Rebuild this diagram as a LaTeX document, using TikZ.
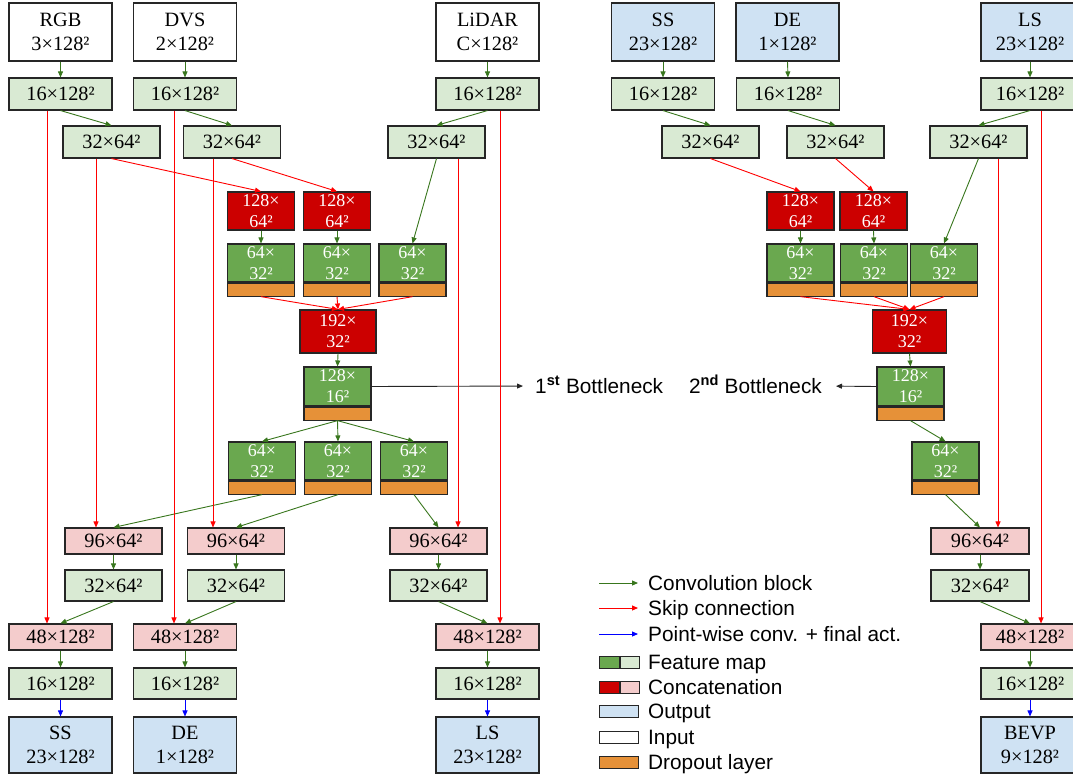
\documentclass[tikz,border=0pt]{standalone}
\usepackage{fontspec}
\setmainfont{Liberation Serif}
\setsansfont{Liberation Sans}
\usetikzlibrary{arrows.meta}

\definecolor{fmlight}{HTML}{D9EAD3}
\definecolor{fmdark}{HTML}{6AA84F}
\definecolor{catlight}{HTML}{F4CCCC}
\definecolor{catdark}{HTML}{CC0000}
\definecolor{outblue}{HTML}{CFE2F3}
\definecolor{dropout}{HTML}{E69138}
\definecolor{convgreen}{HTML}{38761D}
\definecolor{edgegray}{HTML}{262626}

\tikzset{
  box/.style={draw=edgegray, line width=1.1pt, inner sep=0pt, align=center,
              font=\fontsize{20.3}{23.5}\selectfont},
  inp/.style={box, fill=white},
  outp/.style={box, fill=outblue},
  fml/.style={box, fill=fmlight},
  fmd/.style={box, fill=fmdark, text=white, font=\fontsize{18}{21}\selectfont},
  catl/.style={box, fill=catlight},
  catd/.style={box, fill=catdark, text=white, font=\fontsize{18}{21}\selectfont},
  drop/.style={box, fill=dropout, minimum width=67pt, minimum height=13pt, anchor=north},
  wide/.style={minimum width=103pt},
  mid/.style={minimum width=97pt},
  narrow/.style={minimum width=67pt},
  tip/.style={-{Triangle[length=6pt,width=5pt]}, line width=0.9pt},
  conv/.style={tip, draw=convgreen},
  skip/.style={tip, draw=red},
  pw/.style={tip, draw=blue},
  bneck/.style={tip, draw=black!85},
  lab/.style={inner sep=0pt, font=\sffamily\fontsize{20.8}{24}\selectfont,
              text height=15pt, text depth=0pt},
  key/.style={draw=edgegray, line width=1pt, inner sep=0pt, minimum height=12pt}
}

\begin{document}
\begin{tikzpicture}[x=1pt,y=-1pt]
\useasboundingbox (0,0) rectangle (1073,775);

% ===================== first network =====================
% inputs
\node[inp, wide, minimum height=58pt] (rgbin) at (60.5,32) {RGB\\3×128²};
\node[inp, wide, minimum height=58pt] (dvsin) at (185,32) {DVS\\2×128²};
\node[inp, wide, minimum height=58pt] (lidin) at (487.5,32) {LiDAR\\C×128²};
% first convolutions
\node[fml, wide, minimum height=32pt] (rgbc) at (60.5,94) {16×128²};
\node[fml, wide, minimum height=32pt] (dvsc) at (185,94) {16×128²};
\node[fml, wide, minimum height=32pt] (lidc) at (487.5,94) {16×128²};
% encoder 32x64
\node[fml, mid, minimum height=32pt] (rgbe) at (111.5,142) {32×64²};
\node[fml, mid, minimum height=32pt] (dvse) at (232,142) {32×64²};
\node[fml, mid, minimum height=32pt] (lide) at (436.5,142) {32×64²};
% concatenations
\node[catd, narrow, minimum height=38pt] (cat1) at (261,211) {128×\\64²};
\node[catd, narrow, minimum height=38pt] (cat2) at (337,211) {128×\\64²};
% encoder feature maps
\node[fmd, narrow, minimum height=38pt] (fa1) at (261,263) {64×\\32²};
\node[drop] (fa1d) at (fa1.south) {};
\node[fmd, narrow, minimum height=38pt] (fa2) at (337,263) {64×\\32²};
\node[drop] (fa2d) at (fa2.south) {};
\node[fmd, narrow, minimum height=38pt] (fa3) at (412.5,263) {64×\\32²};
\node[drop] (fa3d) at (fa3.south) {};
% fusion
\node[catd, minimum width=76pt, minimum height=43pt] (cat3) at (338,331.5) {192×\\32²};
% bottleneck
\node[fmd, narrow, minimum height=39pt] (bn) at (337.5,386.5) {128×\\16²};
\node[drop] (bnd) at (bn.south) {};
\node[lab, anchor=west] (bt1) at (535,386) {1\textsuperscript{\bfseries st} Bottleneck};
% decoder feature maps
\node[fmd, narrow, minimum height=38pt] (fb1) at (262,461) {64×\\32²};
\node[drop] (fb1d) at (fb1.south) {};
\node[fmd, narrow, minimum height=38pt] (fb2) at (338,461) {64×\\32²};
\node[drop] (fb2d) at (fb2.south) {};
\node[fmd, narrow, minimum height=38pt] (fb3) at (414,461) {64×\\32²};
\node[drop] (fb3d) at (fb3.south) {};
% decoder 96x64
\node[catl, mid, minimum height=26pt] (rgbk) at (113.5,541) {96×64²};
\node[catl, mid, minimum height=26pt] (dvsk) at (236,541) {96×64²};
\node[catl, mid, minimum height=26pt] (lidk) at (438.5,541) {96×64²};
% decoder 32x64
\node[fml, mid, minimum height=31pt] (rgbm) at (113.5,585.5) {32×64²};
\node[fml, mid, minimum height=31pt] (dvsm) at (236,585.5) {32×64²};
\node[fml, mid, minimum height=31pt] (lidm) at (438.5,585.5) {32×64²};
% decoder 48x128
\node[catl, wide, minimum height=26pt] (rgbj) at (60.5,637) {48×128²};
\node[catl, wide, minimum height=26pt] (dvsj) at (185,637) {48×128²};
\node[catl, wide, minimum height=26pt] (lidj) at (487.5,637) {48×128²};
% decoder 16x128
\node[fml, wide, minimum height=31pt] (rgbf) at (60.5,683.5) {16×128²};
\node[fml, wide, minimum height=31pt] (dvsf) at (185,683.5) {16×128²};
\node[fml, wide, minimum height=31pt] (lidf) at (487.5,683.5) {16×128²};
% outputs
\node[outp, wide, minimum height=56pt] (rgbo) at (60.5,745) {SS\\23×128²};
\node[outp, wide, minimum height=56pt] (dvso) at (185,745) {DE\\1×128²};
\node[outp, wide, minimum height=56pt] (lido) at (487.5,745) {LS\\23×128²};

% encoder connectors
\foreach \s in {rgb,dvs,lid}{
  \draw[conv] (\s in.south) -- (\s c.north);
  \draw[conv] (\s c.south) -- (\s e.north);
}
\draw[skip] (rgbe.south) -- (cat1.north);
\draw[skip] (dvse.south) -- (cat2.north);
\draw[conv] (cat1.south) -- (fa1.north);
\draw[conv] (cat2.south) -- (fa2.north);
\draw[conv] (lide.south) -- (fa3.north);
\draw[skip] (fa1d.south) -- (cat3.north);
\draw[skip] (fa2d.south) -- (cat3.north);
\draw[skip] (fa3d.south) -- (cat3.north);
\draw[conv] (cat3.south) -- (bn.north);
\draw[bneck, shorten >=12pt] (bn.east) -- (bt1.west);
% decoder connectors
\draw[conv] (bnd.south) -- (fb1.north);
\draw[conv] (bnd.south) -- (fb2.north);
\draw[conv] (bnd.south) -- (fb3.north);
\draw[conv] (fb1d.south) -- (rgbk.north);
\draw[conv] (fb2d.south) -- (dvsk.north);
\draw[conv] (fb3d.south) -- (lidk.north);
\foreach \s in {rgb,dvs,lid}{
  \draw[conv] (\s k.south) -- (\s m.north);
  \draw[conv] (\s m.south) -- (\s j.north);
  \draw[conv] (\s j.south) -- (\s f.north);
  \draw[pw] (\s f.south) -- (\s o.north);
}
% skip connections
\draw[skip] ([xshift=-13.5pt]rgbc.south) -- ([xshift=-13.5pt]rgbc.south |- rgbj.north);
\draw[skip] ([xshift=-11pt]dvsc.south) -- ([xshift=-11pt]dvsc.south |- dvsj.north);
\draw[skip] ([xshift=12.5pt]lidc.south) -- ([xshift=12.5pt]lidc.south |- lidj.north);
\draw[skip] ([xshift=-15.5pt]rgbe.south) -- ([xshift=-15.5pt]rgbe.south |- rgbk.north);
\draw[skip] ([xshift=-19pt]dvse.south) -- ([xshift=-19pt]dvse.south |- dvsk.north);
\draw[skip] ([xshift=21.5pt]lide.south) -- ([xshift=21.5pt]lide.south |- lidk.north);

% ===================== second network =====================
\node[outp, wide, minimum height=58pt] (ssin) at (663,32) {SS\\23×128²};
\node[outp, wide, minimum height=58pt] (dein) at (787.5,32) {DE\\1×128²};
\node[outp, minimum width=98pt, minimum height=58pt] (lsin) at (1030,32) {LS\\23×128²};
\node[fml, wide, minimum height=32pt] (ssc) at (663,94) {16×128²};
\node[fml, wide, minimum height=32pt] (dec) at (788,94) {16×128²};
\node[fml, minimum width=98pt, minimum height=32pt] (lsc) at (1030,94) {16×128²};
\node[fml, mid, minimum height=32pt] (sse) at (710.5,142) {32×64²};
\node[fml, mid, minimum height=32pt] (dee) at (835.5,142) {32×64²};
\node[fml, mid, minimum height=32pt] (lse) at (978.5,142) {32×64²};
\node[catd, narrow, minimum height=38pt] (cat4) at (800.5,211) {128×\\64²};
\node[catd, narrow, minimum height=38pt] (cat5) at (873.5,211) {128×\\64²};
\node[fmd, narrow, minimum height=38pt] (fc1) at (800.5,263) {64×\\32²};
\node[drop] (fc1d) at (fc1.south) {};
\node[fmd, narrow, minimum height=38pt] (fc2) at (874,263) {64×\\32²};
\node[drop] (fc2d) at (fc2.south) {};
\node[fmd, narrow, minimum height=38pt] (fc3) at (944,263) {64×\\32²};
\node[drop] (fc3d) at (fc3.south) {};
\node[catd, minimum width=74pt, minimum height=43pt] (cat6) at (909.5,331.5) {192×\\32²};
\node[fmd, narrow, minimum height=39pt] (bn2) at (910.5,386.5) {128×\\16²};
\node[drop] (bn2d) at (bn2.south) {};
\node[lab, anchor=east] (bt2) at (822,386) {2\textsuperscript{\bfseries nd} Bottleneck};
\node[fmd, narrow, minimum height=38pt] (fd1) at (945.5,461) {64×\\32²};
\node[drop] (fd1d) at (fd1.south) {};
\node[catl, minimum width=98pt, minimum height=26pt] (rk) at (980,541) {96×64²};
\node[fml, minimum width=98pt, minimum height=31pt] (rm) at (980,585.5) {32×64²};
\node[catl, minimum width=98pt, minimum height=26pt] (rj) at (1030,637) {48×128²};
\node[fml, minimum width=98pt, minimum height=31pt] (rf) at (1030,683.5) {16×128²};
\node[outp, minimum width=98pt, minimum height=56pt] (ro) at (1030,745) {BEVP\\9×128²};

\draw[conv] (ssin.south) -- (ssc.north);
\draw[conv] (dein.south) -- (dec.north);
\draw[conv] (lsin.south) -- (lsc.north);
\draw[conv] (ssc.south) -- (sse.north);
\draw[conv] (dec.south) -- (dee.north);
\draw[conv] (lsc.south) -- (lse.north);
\draw[skip] (sse.south) -- (cat4.north);
\draw[skip] (dee.south) -- (cat5.north);
\draw[conv] (cat4.south) -- (fc1.north);
\draw[conv] (cat5.south) -- (fc2.north);
\draw[conv] (lse.south) -- (fc3.north);
\draw[skip] (fc1d.south) -- (cat6.north);
\draw[skip] (fc2d.south) -- (cat6.north);
\draw[skip] (fc3d.south) -- (cat6.north);
\draw[conv] (cat6.south) -- (bn2.north);
\draw[bneck, shorten >=14pt] (bn2.west) -- (bt2.east);
\draw[conv] (bn2d.south) -- (fd1.north);
\draw[conv] (fd1d.south) -- (rk.north);
\draw[conv] (rk.south) -- (rm.north);
\draw[conv] (rm.south) -- (rj.north);
\draw[conv] (rj.south) -- (rf.north);
\draw[pw] (rf.south) -- (ro.north);
\draw[skip] ([xshift=11pt]lsc.south) -- ([xshift=11pt]lsc.south |- rj.north);
\draw[skip] ([xshift=19.5pt]lse.south) -- ([xshift=19.5pt]lse.south |- rk.north);

% ===================== legend =====================
\coordinate (k1a) at (599,583); \coordinate (k1b) at (638,583);
\coordinate (k2a) at (599,608); \coordinate (k2b) at (638,608);
\coordinate (k3a) at (599,634); \coordinate (k3b) at (638,634);
\draw[conv] (k1a) -- (k1b);
\draw[skip] (k2a) -- (k2b);
\draw[pw] (k3a) -- (k3b);
\node[lab, anchor=west] (l1) at (648,583) {Convolution block};
\node[lab, anchor=west] (l2) at (648,608) {Skip connection};
\node[lab, anchor=west] (l3) at (648,634) {Point-wise conv. + final act.};
\node[key, fill=fmdark, minimum width=19.5pt, anchor=west] (k4a) at (599,662) {};
\node[key, fill=fmlight, minimum width=19.5pt, anchor=west] (k4b) at (k4a.east) {};
\node[key, fill=catdark, minimum width=19.5pt, anchor=west] (k5a) at (599,687) {};
\node[key, fill=catlight, minimum width=19.5pt, anchor=west] (k5b) at (k5a.east) {};
\node[key, fill=outblue, minimum width=39pt, anchor=west] (k6) at (599,711) {};
\node[key, fill=white, minimum width=39pt, anchor=west] (k7) at (599,737) {};
\node[key, fill=dropout, minimum width=39pt, anchor=west] (k8) at (599,762) {};
\node[lab, anchor=west] (l4) at (648,662) {Feature map};
\node[lab, anchor=west] (l5) at (648,687) {Concatenation};
\node[lab, anchor=west] (l6) at (648,711) {Output};
\node[lab, anchor=west] (l7) at (648,737) {Input};
\node[lab, anchor=west] (l8) at (648,762) {Dropout layer};
\end{tikzpicture}
\end{document}
